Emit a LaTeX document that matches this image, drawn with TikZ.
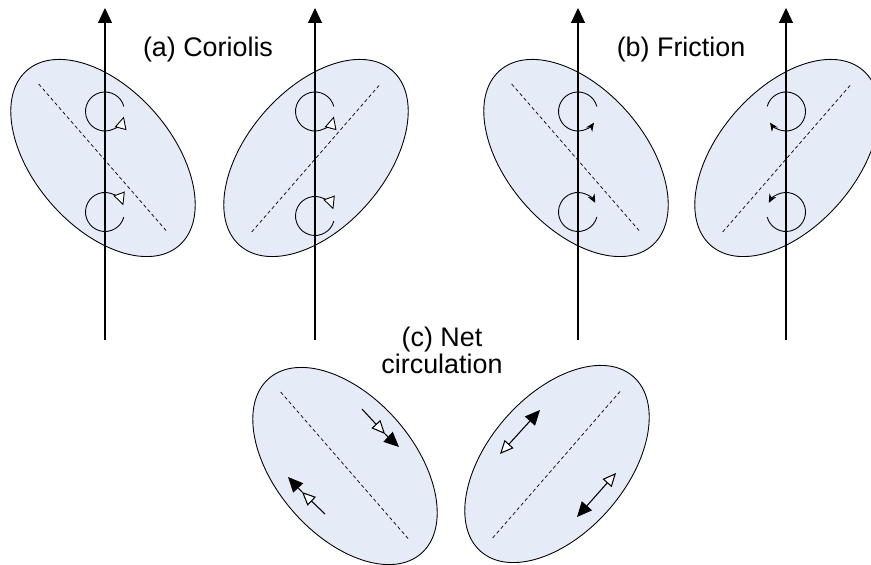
\documentclass[tikz,border=0pt]{standalone}
\usepackage{fontspec}
\setmainfont{Liberation Sans}
\usetikzlibrary{arrows.meta}
\definecolor{blobfill}{RGB}{230,236,247}

\begin{document}
\begin{tikzpicture}[
		blob/.style={draw,fill=blobfill,line width=0.5pt},
		ridge/.style={dash pattern=on 2pt off 1.5pt,line width=0.4pt},
		axis/.style={line width=0.6pt,-{Triangle[length=0.3cm,width=0.28cm]}},
		spinA/.style={line width=0.5pt,-{Triangle[fill=white,length=0.25cm,width=0.24cm]}},
		spinB/.style={line width=0.5pt,-{Stealth[length=0.17cm,width=0.15cm]}},
		flow/.style={line width=0.6pt},
		openhead/.tip={Triangle[fill=white,length=0.27cm,width=0.24cm]},
		fullhead/.tip={Triangle[length=0.3cm,width=0.27cm]},
		lbl/.style={font=\fontsize{15.3}{13.1}\selectfont,align=center}]
	\useasboundingbox (0,0) rectangle (17.42,11.3);
	%% upper ellipses
	\foreach \cx/\ang in {2.06/-49,6.32/49,11.52/-49,15.74/49}{
		\draw[blob,rotate around={\ang:(\cx,8.14)}] (\cx,8.14) ellipse [x radius=2.32,y radius=1.38];
		\draw[ridge] (\cx,8.14) ++(\ang+180:1.96) -- ++(\ang:3.92);
	}
	%% lower ellipses
	\foreach \cx/\cy/\ang in {6.9/1.98/-49,11.14/2.02/49}{
		\draw[blob,rotate around={\ang:(\cx,\cy)}] (\cx,\cy) ellipse [x radius=2.32,y radius=1.38];
		\draw[ridge] (\cx,\cy) ++(\ang+180:1.96) -- ++(\ang:3.92);
	}
	%% axes
	\foreach \x [count=\i] in {2.1,6.3,11.56,15.72}{
		\coordinate (foot\i) at (\x,4.5);
		\coordinate (tip\i) at (\x,11.14);
		\draw[axis] (foot\i) -- (tip\i);
	}
	%% labels
	\node[lbl] (coriolis) at (4.16,10.3) {(a) Coriolis};
	\node[lbl] (friction) at (13.62,10.3) {(b) Friction};
	\node[lbl] (net) at (8.84,4.3) {(c) Net\\circulation};
	%% (a) Coriolis spins
	\foreach \x/\yb in {2.1/7.06,6.3/6.98}{
		\draw[spinA] (\x,9.07) ++(15:0.39) arc[start angle=15,end angle=345,radius=0.39];
		\draw[spinA] (\x,\yb) ++(-15:0.39) arc[start angle=-15,end angle=-340,radius=0.39];
	}
	%% (b) friction spins
	\draw[spinB] (11.56,9.07) ++(15:0.39) arc[start angle=15,end angle=325,radius=0.39];
	\draw[spinB] (11.56,7.06) ++(-15:0.39) arc[start angle=-15,end angle=-332,radius=0.39];
	\draw[spinB] (15.72,9.07) ++(165:0.39) arc[start angle=165,end angle=-145,radius=0.39];
	\draw[spinB] (15.72,7.06) ++(195:0.39) arc[start angle=195,end angle=512,radius=0.39];
	%% (c) net flow
	\coordinate (s1) at (7.24,3.12);
	\coordinate (o1) at (7.70,2.62);
	\coordinate (e1) at (7.98,2.36);
	\coordinate (s2) at (6.5,1.02);
	\coordinate (o2) at (6.04,1.46);
	\coordinate (e2) at (5.76,1.76);
	\draw[flow,-openhead] (s1) -- (o1);
	\draw[flow,-fullhead] (o1) -- (e1);
	\draw[flow,-openhead] (s2) -- (o2);
	\draw[flow,-fullhead] (o2) -- (e2);
	\coordinate (o3) at (10.0,2.22);
	\coordinate (e3) at (10.8,3.10);
	\coordinate (o4) at (12.32,1.84);
	\coordinate (e4) at (11.54,0.96);
	\draw[flow,openhead-fullhead] (o3) -- (e3);
	\draw[flow,openhead-fullhead] (o4) -- (e4);
\end{tikzpicture}
\end{document}
